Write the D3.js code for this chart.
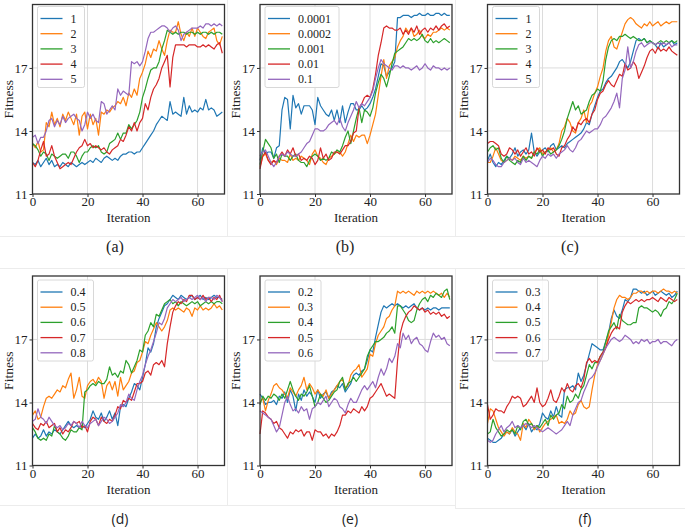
<!DOCTYPE html>
<html><head><meta charset="utf-8">
<script src="https://d3js.org/d3.v7.min.js"></script>
<style>body{margin:0;background:#fff}svg{display:block}</style>
</head><body>
<script>
const xTicks = [0, 20, 40, 60];
const yTicks = [11, 14, 17];
const colors = ["#1f77b4", "#ff7f0e", "#2ca02c", "#d62728", "#9467bd"];
const panelTags = ["(a)", "(b)", "(c)", "(d)", "(e)", "(f)"];

const legA = ["1", "2", "3", "4", "5"];
const legB = ["0.0001", "0.0002", "0.001", "0.01", "0.1"];
const legC = ["1", "2", "3", "4", "5"];
const legD = ["0.4", "0.5", "0.6", "0.7", "0.8"];
const legE = ["0.2", "0.3", "0.4", "0.5", "0.6"];
const legF = ["0.3", "0.4", "0.5", "0.6", "0.7"];

// Panel (a)
const pa1 = [12.5,12.4,12.6,12.3,12.5,12.7,12.4,12.6,12.3,12.4,12.3,12.5,12.4,12.3,12.5,12.4,12.3,12.4,12.5,12.4,12.5,12.6,12.5,12.7,12.6,12.5,12.7,12.8,12.7,12.6,12.7,12.6,12.8,12.9,12.9,13.0,13.0,12.9,13.0,13.0,13.2,13.4,13.6,13.8,14.0,14.3,14.5,14.7,14.6,14.5,15.4,14.8,14.9,14.8,14.7,15.6,14.8,15.2,14.9,15.0,14.9,15.1,15.0,15.5,15.0,15.1,15.0,14.7,14.8,14.9];
const pa2 = [13.4,13.2,13.5,13.0,13.1,14.4,14.2,14.9,14.3,14.6,14.2,14.8,14.5,14.9,14.6,14.3,14.8,13.8,14.7,14.9,14.1,14.8,14.3,14.6,13.8,14.9,14.8,15.0,14.9,15.1,15.2,15.4,15.3,15.6,15.2,15.8,15.6,16.0,15.7,16.5,16.8,17.2,17.8,17.5,17.9,17.8,18.3,17.9,17.6,18.3,18.8,18.7,18.7,19.2,18.6,18.3,18.7,18.5,18.9,18.5,18.9,18.7,18.5,18.4,18.7,18.8,18.9,18.3,18.1,18.5];
const pa3 = [13.4,13.3,13.1,12.8,13.0,12.9,12.6,12.9,12.8,12.7,12.8,12.9,12.9,12.7,13.0,13.0,12.8,12.5,12.8,13.0,13.0,13.2,13.3,13.2,13.3,13.0,12.9,13.0,13.4,13.5,13.6,13.9,13.6,13.9,13.9,14.3,14.1,14.3,14.5,14.9,15.6,16.0,16.5,16.9,17.0,17.0,17.3,17.9,18.3,18.8,18.7,18.6,18.7,18.6,18.7,18.7,18.6,18.7,18.7,18.6,18.7,18.6,18.7,18.7,18.6,18.7,18.6,18.7,18.7,18.6];
const pa4 = [12.5,12.3,12.6,13.1,13.5,12.8,12.9,13.3,12.8,12.5,12.2,12.3,12.4,12.5,12.4,12.7,13.0,13.2,13.3,13.6,13.3,13.4,13.2,13.3,13.2,13.1,13.2,13.0,12.9,13.1,13.2,13.3,13.6,13.5,13.8,14.2,14.0,14.4,14.0,14.4,14.6,15.3,15.0,15.6,16.0,16.2,16.5,17.0,17.3,17.6,16.1,17.5,18.1,18.1,18.1,18.1,18.0,18.1,18.1,18.1,18.0,18.0,18.1,18.0,18.1,18.0,17.9,18.1,18.2,17.7];
const pa5 = [13.7,13.8,13.4,13.7,13.7,14.0,14.5,14.6,14.2,14.5,14.3,14.7,14.4,14.6,14.7,14.8,14.6,14.5,14.0,14.3,14.9,14.6,14.8,14.5,14.4,15.4,15.3,14.8,15.0,15.2,15.0,16.0,15.7,15.9,15.8,15.7,17.3,17.2,17.3,17.1,17.3,17.8,18.4,18.7,18.7,18.8,18.9,19.0,19.0,18.9,18.7,18.9,19.0,18.8,18.3,18.6,18.7,18.8,18.9,18.9,18.9,19.0,18.9,19.1,19.1,19.0,19.1,19.0,19.1,19.0];
// Panel (b)
const pb1 = [12.6,13.2,12.9,13.0,13.0,12.7,13.2,13.3,15.0,15.6,15.5,14.1,15.7,15.1,15.3,14.8,15.2,15.2,15.2,15.0,14.3,15.6,15.2,15.0,14.8,14.7,15.0,14.5,15.0,14.4,15.2,14.4,14.9,15.3,15.3,15.0,15.0,15.2,15.0,15.1,15.3,15.6,16.0,16.6,17.2,17.1,16.6,16.8,17.0,17.3,19.4,19.4,19.5,19.5,19.5,19.4,19.5,19.5,19.6,19.5,19.5,19.6,19.5,19.5,19.6,19.6,19.5,19.6,19.5,19.5];
const pb2 = [12.3,12.8,12.9,12.6,12.5,12.6,12.4,12.7,12.6,12.6,12.5,12.9,12.6,12.7,12.6,12.8,12.7,12.6,12.4,12.9,13.1,12.8,12.7,12.5,12.4,12.7,12.8,12.9,13.0,13.0,12.8,13.0,13.4,13.8,13.5,13.8,13.7,13.8,13.8,13.4,13.8,14.3,14.8,15.7,16.6,17.4,16.5,17.1,17.3,17.5,18.0,18.3,18.5,18.9,18.7,18.9,18.5,18.6,18.8,18.5,18.4,18.6,18.5,18.7,18.7,18.8,18.9,18.8,18.9,18.8];
const pb3 = [12.4,13.0,13.6,13.4,13.2,12.7,12.9,12.5,12.9,12.8,12.8,12.6,12.8,12.9,12.6,12.5,12.5,12.3,12.6,12.8,12.9,12.8,12.6,12.7,12.6,12.7,13.0,12.9,13.1,13.0,13.3,13.7,14.0,13.4,14.0,14.6,15.1,14.4,15.0,14.9,14.7,15.1,15.8,16.3,16.7,16.5,16.1,16.6,17.2,17.7,17.8,17.9,18.0,18.2,18.4,18.3,18.4,18.3,18.4,18.6,18.3,18.2,18.4,18.2,18.3,18.2,18.3,18.4,18.3,18.2];
const pb4 = [12.2,12.8,13.0,12.6,12.4,12.6,12.5,12.8,13.0,12.8,13.1,12.9,13.2,12.8,12.9,12.6,12.7,12.6,12.8,12.7,12.4,12.6,13.2,12.7,12.9,12.6,12.7,13.0,13.0,12.9,13.1,13.3,13.3,13.5,13.9,14.0,15.1,15.3,15.6,15.7,15.6,16.0,16.7,17.6,18.2,18.9,19.0,18.9,18.9,18.8,18.8,18.9,18.6,18.8,18.6,18.9,18.7,19.0,18.6,18.8,18.9,18.7,18.9,18.8,19.0,18.8,19.0,19.1,18.9,19.0];
const pb5 = [12.8,13.0,13.1,12.8,12.5,12.3,12.5,12.8,12.9,12.8,13.0,12.9,12.8,12.8,12.9,13.0,13.2,13.4,13.5,13.8,14.1,14.1,14.0,14.0,14.1,14.3,14.4,14.5,14.3,14.6,14.2,14.0,14.4,14.7,15.0,15.4,15.1,15.3,15.2,15.4,15.6,15.9,16.5,17.0,17.4,17.2,17.1,17.0,16.9,17.1,17.1,17.0,17.1,17.0,17.0,16.9,17.0,17.1,16.9,17.0,17.2,17.0,16.9,17.1,17.0,17.0,16.9,17.0,16.9,17.0];
// Panel (c)
const pc1 = [12.6,12.9,12.5,12.3,12.5,12.4,12.6,12.8,12.7,12.9,13.2,12.8,13.0,13.1,12.9,13.1,13.9,13.0,12.8,13.0,13.1,13.2,13.0,13.3,13.4,13.1,13.2,13.3,13.2,13.4,13.5,13.6,13.7,13.8,13.9,14.1,14.4,14.3,14.8,15.2,15.6,15.9,16.0,16.3,16.5,16.6,16.8,17.0,17.3,17.4,17.2,17.0,17.3,17.8,18.3,18.4,18.3,18.4,18.2,18.3,18.2,18.1,17.9,18.2,18.0,18.1,18.2,18.3,18.1,18.2];
const pc2 = [12.5,12.5,12.8,13.2,12.9,12.6,12.5,12.6,12.7,12.6,12.8,12.7,12.6,12.8,12.7,12.8,12.7,13.0,13.1,13.2,12.9,13.0,13.1,13.2,13.0,13.1,13.4,14.0,14.2,14.6,14.4,14.0,13.9,14.4,14.6,15.0,14.4,15.2,15.4,15.8,16.1,16.6,17.0,17.8,18.3,18.5,18.0,17.9,18.3,18.7,19.1,19.3,19.4,19.3,19.1,19.0,18.9,19.1,19.0,19.2,19.0,19.1,19.2,19.0,19.1,19.2,19.1,19.2,19.2,19.2];
const pc3 = [13.0,13.2,13.3,13.1,13.2,12.7,12.5,12.8,12.6,12.5,12.4,12.6,12.5,12.8,12.6,12.8,12.7,13.0,12.9,13.1,12.8,13.0,13.1,12.9,13.0,13.1,13.3,13.6,14.0,14.6,15.0,15.4,15.0,15.2,14.8,14.9,15.0,15.4,15.7,15.8,16.0,15.9,16.4,17.4,18.0,18.3,18.4,18.3,18.5,18.5,18.6,18.5,18.4,18.5,18.4,18.3,18.3,18.4,18.2,18.3,18.2,18.1,18.2,18.3,18.2,18.3,18.2,18.3,18.2,18.3];
const pc4 = [13.4,13.5,13.5,13.4,13.3,12.9,12.8,12.9,13.2,13.1,12.9,13.1,12.8,13.0,13.2,12.9,13.0,12.8,13.2,13.0,13.1,12.9,13.2,13.1,13.2,12.9,12.8,13.2,13.3,13.6,13.8,14.2,14.0,14.4,14.3,14.5,14.6,14.4,14.8,15.0,15.5,15.8,15.9,16.2,16.4,16.2,16.1,16.4,16.7,16.6,17.2,16.9,17.0,17.3,17.1,16.5,16.8,17.1,17.5,17.8,17.9,17.7,18.0,17.8,17.9,17.8,18.0,17.8,17.7,17.6];
const pc5 = [12.5,12.7,12.6,12.4,12.3,12.3,12.5,12.6,12.7,12.6,12.7,12.5,12.4,12.7,12.5,12.6,12.5,12.4,12.3,12.6,12.8,12.7,12.9,12.8,12.9,12.7,12.9,13.0,13.1,13.3,13.1,13.0,13.2,13.5,13.6,13.8,14.0,13.9,14.0,14.1,14.1,14.3,14.6,14.7,14.9,15.1,15.4,15.8,15.1,16.5,16.9,18.0,17.0,17.3,17.8,18.1,18.2,18.0,18.1,18.2,18.2,18.1,18.2,18.1,18.2,18.1,18.2,18.0,18.1,18.1];
// Panel (d)
const pd1 = [12.3,12.5,12.3,12.4,12.7,12.4,12.6,12.5,12.7,12.6,12.5,12.7,12.9,13.1,12.9,12.8,12.9,12.8,12.9,12.8,13.0,13.2,13.6,13.3,13.2,13.5,13.1,13.3,13.6,13.2,13.5,12.9,13.8,13.9,13.8,14.2,14.5,14.9,14.8,14.6,15.2,15.8,16.6,16.4,16.8,17.6,18.0,18.3,18.6,18.7,18.9,19.1,19.0,18.9,19.1,19.0,18.9,19.0,19.1,18.9,19.0,19.1,18.9,19.0,18.9,19.0,19.1,19.0,19.0,18.9];
const pd2 = [13.4,13.6,13.2,13.3,13.8,14.2,14.3,14.2,14.4,14.6,14.5,14.8,14.7,15.1,15.4,14.2,14.6,15.2,14.3,14.2,14.8,15.0,15.1,14.9,15.2,15.0,14.2,14.8,15.0,14.6,15.0,14.3,15.2,14.6,14.8,15.0,15.4,15.5,15.9,16.0,16.4,16.9,16.8,17.2,17.5,17.8,17.6,17.4,17.6,17.9,18.4,18.5,18.4,18.5,18.4,18.3,18.5,18.4,18.1,18.5,18.4,18.6,18.4,18.5,18.4,18.5,18.7,18.5,18.6,18.4];
const pd3 = [12.8,12.6,12.3,12.2,12.3,12.2,12.5,12.4,12.9,12.6,12.5,12.3,12.2,12.4,12.7,12.6,12.6,12.8,12.7,14.5,14.6,14.8,14.9,14.8,15.0,14.9,14.9,15.1,15.7,15.3,15.4,15.2,15.5,15.4,16.0,15.8,15.4,15.7,16.0,16.5,16.4,17.2,17.4,17.8,17.6,18.2,18.1,18.4,18.7,18.8,18.9,18.7,18.8,18.6,18.8,18.7,18.6,18.7,18.8,18.7,18.8,18.6,18.7,18.8,18.7,18.8,18.7,18.8,18.8,18.7];
const pd4 = [13.0,12.8,12.7,13.0,12.9,13.1,12.8,12.9,13.0,12.6,12.8,12.5,12.7,12.6,12.8,13.1,13.0,13.1,12.8,12.9,12.6,13.1,13.3,13.2,12.9,13.3,13.1,13.0,13.2,13.1,13.4,13.8,13.7,14.1,14.0,14.2,14.1,14.5,14.9,14.9,15.0,15.4,15.5,15.3,15.8,15.9,15.8,16.0,15.7,16.8,17.6,18.3,18.6,18.8,18.7,18.9,18.8,19.1,19.1,18.9,19.0,18.9,19.1,18.9,19.0,18.8,19.0,18.9,19.1,18.8];
const pd5 = [13.1,13.2,13.7,13.3,13.2,13.0,13.3,13.1,12.9,12.8,12.9,12.7,12.8,13.0,12.9,13.1,13.0,12.8,13.1,12.9,12.8,13.0,13.1,13.2,12.9,13.1,13.3,13.2,13.0,13.1,13.3,13.5,13.9,13.8,14.0,14.4,14.2,14.1,14.6,15.0,15.3,15.8,16.2,16.5,16.9,17.3,17.8,17.7,18.0,18.5,18.7,18.9,18.8,18.9,19.0,18.8,18.9,19.0,18.9,19.0,19.1,18.9,19.0,18.8,19.0,19.0,18.9,19.1,19.0,18.8];
// Panel (e)
const pe1 = [14.4,14.2,13.9,14.0,14.0,14.1,13.9,14.3,14.2,14.5,14.0,14.6,14.3,13.6,14.4,14.1,14.6,14.3,14.5,14.3,14.0,14.6,14.2,14.4,14.5,14.2,14.5,14.6,14.8,14.7,14.9,14.5,14.7,14.9,15.3,15.4,15.3,15.5,15.6,16.0,16.5,16.4,17.1,17.7,18.3,18.6,18.5,18.6,18.7,18.6,18.7,18.6,18.5,18.6,18.5,18.6,18.7,18.5,18.4,18.5,18.4,18.5,18.4,18.5,18.5,18.4,18.5,18.5,18.5,18.5];
const pe2 = [14.0,14.2,13.6,14.1,14.4,14.8,14.9,14.7,14.6,14.4,14.2,14.7,14.5,14.3,14.6,14.8,15.2,14.6,14.9,14.7,14.4,14.6,14.4,14.3,14.6,14.2,14.4,14.6,14.8,15.0,15.1,14.7,14.8,15.3,15.5,15.6,15.8,15.2,15.4,15.6,16.3,16.2,16.8,17.2,17.4,17.6,18.0,18.1,18.4,18.6,19.3,19.2,19.3,19.2,19.3,19.2,19.1,19.3,19.2,19.3,19.2,19.3,19.2,19.3,19.2,19.1,19.2,19.0,19.2,19.0];
const pe3 = [13.9,14.3,14.1,14.3,14.2,14.4,14.3,14.1,14.4,14.2,14.6,15.0,14.6,14.3,14.1,14.4,14.3,14.5,14.8,14.3,13.8,14.0,14.4,14.2,14.0,14.1,14.3,14.5,14.6,15.0,15.2,14.6,14.9,15.0,15.2,15.0,15.2,15.4,15.6,16.2,16.5,16.7,16.9,16.9,17.0,17.1,17.3,17.4,17.6,17.3,18.6,18.6,18.4,18.2,17.9,17.8,17.9,18.4,18.7,18.9,19.0,18.8,19.1,19.0,19.2,19.1,19.0,19.3,19.4,18.9];
const pe4 = [12.5,13.6,13.5,13.3,13.2,13.0,13.1,12.8,12.7,12.5,12.3,12.6,12.5,12.7,12.6,12.7,12.4,12.6,12.6,12.2,12.7,12.6,12.6,12.4,12.5,12.3,12.5,12.4,12.6,12.9,13.4,13.4,13.6,13.5,13.7,13.6,13.5,13.8,13.6,13.8,14.2,14.3,14.5,14.7,14.9,14.6,14.3,14.4,14.3,14.2,16.0,17.3,17.8,18.1,18.3,18.4,18.6,18.5,18.4,18.5,18.3,18.4,18.2,18.3,18.2,18.3,18.1,18.2,18.0,18.1];
const pe5 = [13.6,13.5,13.4,13.3,13.2,12.9,12.6,12.8,13.4,14.0,14.3,13.9,13.6,13.7,13.5,13.8,13.6,13.7,13.2,13.7,13.8,14.0,13.9,14.1,14.3,13.8,14.0,14.2,14.1,13.8,13.7,13.5,13.9,14.2,14.0,14.0,14.3,14.6,14.8,14.6,14.8,15.0,14.7,15.2,15.6,15.3,15.6,16.1,15.9,16.2,16.8,16.6,17.3,17.0,17.2,16.8,17.0,17.1,16.8,16.7,16.5,16.4,16.9,17.3,17.1,17.2,17.0,17.1,16.8,16.7];
// Panel (f)
const pf1 = [12.3,12.2,12.1,12.1,12.2,12.3,12.5,12.6,12.5,12.7,12.4,12.6,12.8,12.9,12.7,13.0,12.6,12.8,12.7,13.0,13.5,13.3,13.2,13.6,13.3,13.8,13.4,13.3,14.6,14.7,14.7,14.8,14.6,15.4,15.0,15.3,15.8,16.3,16.8,16.7,16.6,16.5,16.5,16.9,17.3,18.0,18.4,18.1,18.0,18.4,18.9,18.8,19.0,19.4,19.4,19.3,19.2,19.3,19.1,19.2,19.3,19.1,19.2,19.3,19.2,19.1,19.2,19.0,19.1,19.3];
const pf2 = [13.0,13.7,13.6,13.2,12.8,12.6,12.4,12.6,12.5,12.8,12.6,12.5,12.2,13.0,12.8,13.2,13.0,12.7,12.9,12.6,12.8,13.0,13.1,13.2,13.3,13.4,13.0,13.1,13.0,13.2,13.6,13.4,13.5,13.9,14.1,13.8,13.7,13.8,14.6,15.3,15.8,16.0,16.3,16.6,17.2,17.8,18.5,18.9,19.1,19.0,19.0,18.9,19.0,19.2,19.2,19.3,19.3,19.2,19.3,19.2,19.3,19.3,19.2,19.3,19.4,19.3,19.3,19.2,19.3,19.2];
const pf3 = [12.5,12.6,13.2,12.8,12.6,12.4,12.5,12.7,12.6,12.7,12.5,12.9,12.7,13.1,13.2,12.9,13.0,12.8,12.9,12.8,13.0,13.2,12.9,13.4,13.2,13.4,13.5,13.9,13.7,14.3,14.0,14.1,14.4,14.2,14.6,14.8,15.3,15.8,15.6,15.9,15.9,16.2,16.4,16.9,17.4,17.6,17.8,17.5,18.2,17.9,17.8,17.7,17.7,17.8,17.8,18.5,18.6,18.5,18.5,18.4,18.3,18.4,18.3,18.1,18.4,18.5,18.8,18.7,18.9,19.2];
const pf4 = [13.9,13.2,13.4,13.7,13.6,13.6,13.5,13.8,14.0,14.3,14.2,14.3,14.2,13.8,13.9,14.1,14.3,14.0,14.7,14.0,13.8,13.9,14.2,14.6,14.1,14.0,14.3,14.7,14.5,14.9,14.6,14.5,14.8,14.9,14.7,15.1,15.9,16.1,15.9,16.0,15.9,16.2,16.4,16.6,17.0,17.3,17.5,17.6,17.5,18.3,18.6,18.8,18.7,18.8,18.9,18.8,18.9,18.8,18.9,18.9,19.0,18.9,18.8,19.0,18.9,18.8,19.0,18.9,18.8,18.9];
const pf5 = [12.2,12.1,12.2,12.5,12.7,12.9,12.6,12.8,12.9,13.1,12.8,12.9,12.8,12.9,13.0,12.9,12.8,12.9,12.8,12.7,12.6,12.7,12.8,12.7,12.6,12.5,12.6,12.7,12.9,13.1,12.9,13.4,13.7,14.0,14.1,14.5,14.8,15.1,15.2,15.4,15.7,16.0,16.3,16.6,16.8,17.0,17.1,17.0,16.9,17.0,17.2,17.1,17.0,16.8,16.9,16.8,17.0,16.9,17.0,16.8,16.9,16.9,17.0,16.8,16.9,16.9,16.8,16.7,16.9,17.0];

const panels = [
  {labels: legA, series: [pa1, pa2, pa3, pa4, pa5]},
  {labels: legB, series: [pb1, pb2, pb3, pb4, pb5]},
  {labels: legC, series: [pc1, pc2, pc3, pc4, pc5]},
  {labels: legD, series: [pd1, pd2, pd3, pd4, pd5]},
  {labels: legE, series: [pe1, pe2, pe3, pe4, pe5]},
  {labels: legF, series: [pf1, pf2, pf3, pf4, pf5]}
];

const W = 685, H = 530;
const svg = d3.select("body").append("svg").attr("width", W).attr("height", H);
const serif = "'Liberation Serif','Times New Roman',serif";

// faint sub-figure borders
const bord = svg.append("g").attr("stroke", "#ececec").attr("stroke-width", 1);
bord.append("line").attr("x1", 227.5).attr("x2", 227.5).attr("y1", 0).attr("y2", 236);
bord.append("line").attr("x1", 455.5).attr("x2", 455.5).attr("y1", 0).attr("y2", 237);
bord.append("line").attr("x1", 0).attr("x2", 685).attr("y1", 236.5).attr("y2", 236.5);
bord.append("line").attr("x1", 0).attr("x2", 685).attr("y1", 268.5).attr("y2", 268.5);
bord.append("line").attr("x1", 227.5).attr("x2", 227.5).attr("y1", 268).attr("y2", 505);
bord.append("line").attr("x1", 455.5).attr("x2", 455.5).attr("y1", 268).attr("y2", 508);
bord.append("line").attr("x1", 0).attr("x2", 455).attr("y1", 505.5).attr("y2", 505.5);
bord.append("line").attr("x1", 455).attr("x2", 685).attr("y1", 508.5).attr("y2", 508.5);

const lefts = [32.5, 260, 487.5];
const tops = [4.5, 276];
const pw = 192, ph = 189.5;
const tagPos = [[115, 247], [345, 247], [570, 247], [120, 519], [350, 519], [585, 519]];

panels.forEach((p, i) => {
  const col = i % 3, row = Math.floor(i / 3);
  const x0 = lefts[col], y0 = tops[row];
  const x = d3.scaleLinear().domain([0, 69.8]).range([x0, x0 + pw]);
  const y = d3.scaleLinear().domain([11, 20.02]).range([y0 + ph, y0]);
  const g = svg.append("g");

  // grid
  g.append("g").selectAll("line").data(xTicks.slice(1)).join("line")
    .attr("x1", d => x(d)).attr("x2", d => x(d)).attr("y1", y0).attr("y2", y0 + ph)
    .attr("stroke", "#dcdcdc").attr("stroke-width", 1);
  g.append("g").selectAll("line").data(yTicks.slice(1)).join("line")
    .attr("y1", d => y(d)).attr("y2", d => y(d)).attr("x1", x0).attr("x2", x0 + pw)
    .attr("stroke", "#dcdcdc").attr("stroke-width", 1);

  // lines
  const line = d3.line().x((d, k) => x(k)).y(d => y(d));
  p.series.forEach((s, k) => {
    g.append("path").datum(s).attr("d", line).attr("fill", "none")
      .attr("stroke", colors[k]).attr("stroke-width", 1.2).attr("stroke-linejoin", "round");
  });

  // axes
  const xa = g.append("g").attr("transform", `translate(0,${y0 + ph})`)
    .call(d3.axisBottom(x).tickValues(xTicks).tickSize(3).tickPadding(0));
  const ya = g.append("g").attr("transform", `translate(${x0},0)`)
    .call(d3.axisLeft(y).tickValues(yTicks).tickSize(3).tickPadding(2));
  [xa, ya].forEach(a => {
    a.select(".domain").remove();
    a.selectAll("line").attr("stroke", "#333");
    a.selectAll("text").attr("font-family", serif).attr("font-size", 13).attr("fill", "#222");
  });

  // frame
  g.append("rect").attr("x", x0).attr("y", y0).attr("width", pw).attr("height", ph)
    .attr("fill", "none").attr("stroke", "#333").attr("stroke-width", 1.3);

  // axis titles
  g.append("text").attr("x", x0 + pw / 2).attr("y", y0 + ph + 28)
    .attr("text-anchor", "middle").attr("font-family", serif).attr("font-size", 13)
    .attr("fill", "#222").text("Iteration");
  g.append("text").attr("transform", `translate(${x0 - 20},${y0 + ph / 2}) rotate(-90)`)
    .attr("text-anchor", "middle").attr("font-family", serif).attr("font-size", 13.5)
    .attr("fill", "#222").text("Fitness");

  // legend
  const lg = g.append("g").attr("transform", `translate(${x0 + 5},${y0 + (row ? 4 : 2)})`);
  const box = lg.append("rect").attr("rx", 2).attr("fill", "#fff").attr("fill-opacity", 0.85)
    .attr("stroke", "#d8d8d8").attr("stroke-width", 1);
  let maxW = 0;
  p.labels.forEach((lab, k) => {
    const cy = 12 + k * 15.2;
    lg.append("line").attr("x1", 3).attr("x2", 25).attr("y1", cy).attr("y2", cy)
      .attr("stroke", colors[k]).attr("stroke-width", 1.3);
    const t = lg.append("text").attr("x", 33).attr("y", cy + 4)
      .attr("font-family", serif).attr("font-size", 12).attr("fill", "#222").text(lab);
    maxW = Math.max(maxW, t.node().getComputedTextLength());
  });
  box.attr("width", 33 + maxW + 8).attr("height", 81);

  // panel tag
  svg.append("text").attr("x", tagPos[i][0]).attr("y", tagPos[i][1] + 5)
    .attr("text-anchor", "middle")
    .attr("font-family", row ? "'Open Sans','Noto Sans',sans-serif" : serif)
    .attr("font-size", row ? 14 : 16).attr("fill", "#222").text(panelTags[i]);
});
</script>
</body></html>
